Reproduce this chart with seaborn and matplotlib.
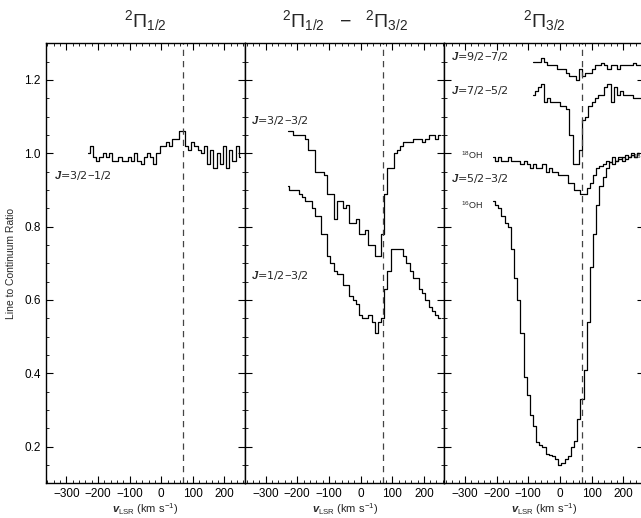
"""
OH line-to-continuum ratios for the three ladders (2Pi1/2, cross-ladder, 2Pi3/2).
"""
import matplotlib
matplotlib.use("Agg")
import matplotlib.pyplot as plt
from matplotlib.ticker import MultipleLocator
import seaborn as sns
import pandas as pd
import numpy as np

# ---- data ----
CHAN = 10.0          # channel width, km/s
V_SYS = 70.0         # dashed reference velocity

# panel 1: 2Pi1/2  J=3/2-1/2, channels start at -230 km/s
p1_start = -230
p1_j32_12 = [1.00, 1.02, 0.99, 0.98, 0.99, 1.00, 0.99, 1.00, 0.98, 0.98,
             0.99, 0.98, 0.98, 0.99, 0.98, 1.00, 0.98, 0.97, 0.99, 1.00,
             0.99, 0.97, 1.00, 1.02, 1.02, 1.03, 1.02, 1.04, 1.04, 1.06,
             1.06, 1.02, 1.01, 1.03, 1.02, 1.01, 1.00, 1.02, 0.97, 1.01,
             0.96, 1.00, 0.97, 1.02, 0.96, 1.01, 0.98, 1.02, 0.99]

# panel 2: cross-ladder, channels start at -230 km/s
p2_start = -230
p2_j32_32 = [1.06, 1.06, 1.05, 1.05, 1.05, 1.05, 1.04, 1.01, 1.01, 0.95,
             0.95, 0.95, 0.94, 0.89, 0.89, 0.82, 0.87, 0.87, 0.85, 0.86,
             0.81, 0.81, 0.82, 0.78, 0.78, 0.79, 0.75, 0.75, 0.72, 0.72,
             0.78, 0.89, 0.96, 0.96, 1.00, 1.01, 1.02, 1.03, 1.03, 1.03,
             1.04, 1.04, 1.04, 1.03, 1.04, 1.05, 1.05, 1.04, 1.05]
p2_j12_32 = [0.91, 0.90, 0.90, 0.90, 0.89, 0.88, 0.87, 0.87, 0.85, 0.83,
             0.83, 0.78, 0.78, 0.72, 0.70, 0.68, 0.67, 0.67, 0.64, 0.64,
             0.61, 0.60, 0.59, 0.56, 0.55, 0.55, 0.56, 0.54, 0.51, 0.54,
             0.55, 0.63, 0.68, 0.74, 0.74, 0.74, 0.74, 0.72, 0.70, 0.68,
             0.66, 0.66, 0.63, 0.62, 0.60, 0.58, 0.57, 0.56, 0.55]

# panel 3: 2Pi3/2
p3_hi_start = -85
p3_j92_72 = [1.25, 1.25, 1.25, 1.26, 1.25, 1.24, 1.24, 1.24, 1.23, 1.23,
             1.23, 1.22, 1.21, 1.21, 1.20, 1.23, 1.21, 1.22, 1.22, 1.23,
             1.24, 1.24, 1.245, 1.24, 1.23, 1.24, 1.24, 1.23, 1.24, 1.24,
             1.24, 1.24, 1.245, 1.24, 1.24]
p3_j72_52 = [1.16, 1.17, 1.18, 1.19, 1.14, 1.15, 1.14, 1.14, 1.14, 1.13,
             1.13, 1.12, 1.05, 0.97, 0.97, 1.01, 1.09, 1.10, 1.13, 1.14,
             1.15, 1.16, 1.16, 1.18, 1.19, 1.14, 1.18, 1.16, 1.17, 1.16,
             1.16, 1.16, 1.15, 1.15, 1.15]
p3_lo_start = -210
p3_18oh = [0.99, 0.98, 0.99, 0.98, 0.98, 0.99, 0.98, 0.98, 0.98, 0.97,
           0.98, 0.97, 0.96, 0.97, 0.96, 0.96, 0.97, 0.95, 0.96, 0.95,
           0.95, 0.94, 0.94, 0.94, 0.92, 0.92, 0.90, 0.90, 0.89, 0.89,
           0.905, 0.92, 0.94, 0.96, 0.965, 0.97, 0.98, 0.975, 0.99, 0.98,
           0.99, 0.98, 0.995, 0.99, 1.00, 0.99, 1.00]
p3_16oh = [0.87, 0.86, 0.85, 0.83, 0.81, 0.80, 0.74, 0.66, 0.60, 0.51,
           0.39, 0.34, 0.285, 0.255, 0.213, 0.204, 0.20, 0.18, 0.177, 0.175,
           0.165, 0.15, 0.155, 0.165, 0.175, 0.20, 0.215, 0.276, 0.33, 0.41,
           0.54, 0.69, 0.78, 0.86, 0.91, 0.935, 0.96, 0.975, 0.97, 0.98,
           0.985, 0.99, 0.985, 0.99, 0.995, 0.99, 1.00]

titles = [r'$^{2}\Pi_{1/2}$', r'$^{2}\Pi_{1/2}\ \ -\ \ ^{2}\Pi_{3/2}$', r'$^{2}\Pi_{3/2}$']


def spectrum(start, values):
    vel = start + CHAN * np.arange(len(values))
    return pd.DataFrame({'v': vel, 'ratio': values})


sns.set_style('ticks')
plt.rcParams['font.family'] = ['Liberation Sans', 'DejaVu Sans']
plt.rcParams['mathtext.fontset'] = 'custom'
plt.rcParams['mathtext.rm'] = 'Liberation Sans'
plt.rcParams['mathtext.it'] = 'Liberation Sans:italic:bold'
plt.rcParams['mathtext.bf'] = 'Liberation Sans:bold'

fig = plt.figure(figsize=(6.41, 5.18), dpi=100)
left, width = 0.0713, 0.311
bottom, height = 0.067, 0.8494
axes = [fig.add_axes([left + i * width, bottom, width, height]) for i in range(3)]

panels = [
    [(p1_start, p1_j32_12)],
    [(p2_start, p2_j32_32), (p2_start, p2_j12_32)],
    [(p3_hi_start, p3_j92_72), (p3_hi_start, p3_j72_52),
     (p3_lo_start, p3_18oh), (p3_lo_start, p3_16oh)],
]

for i, ax in enumerate(axes):
    for start, vals in panels[i]:
        sns.lineplot(data=spectrum(start, vals), x='v', y='ratio', ax=ax,
                     estimator=None, sort=True, color='black', lw=0.9,
                     drawstyle='steps-mid')
    ax.axvline(V_SYS, color='#444444', lw=0.9, ls=(0, (5, 4)))
    ax.set_xlim(-365, 265)
    ax.set_ylim(0.1, 1.3)
    ax.xaxis.set_major_locator(MultipleLocator(100))
    ax.xaxis.set_minor_locator(MultipleLocator(20))
    ax.yaxis.set_major_locator(MultipleLocator(0.2))
    ax.yaxis.set_minor_locator(MultipleLocator(0.05))
    ax.tick_params(which='both', direction='in', top=True, right=True,
                   labelsize=8.5, colors='black')
    ax.tick_params(which='major', length=5, width=0.8)
    ax.tick_params(which='minor', length=2.5, width=0.6)
    for sp in ax.spines.values():
        sp.set_linewidth(1.0)
        sp.set_color('black')
    ax.set_xlabel(r'$v_{\rm LSR}$ (km s$^{-1}$)', fontsize=8, labelpad=1)
    ax.set_title(titles[i], fontsize=14, pad=12)
    if i == 0:
        ax.set_ylabel('Line to Continuum Ratio', fontsize=7.5, labelpad=6)
    else:
        ax.set_ylabel('')
        ax.tick_params(labelleft=False)

# line labels, wider DejaVu glyphs to match the spacing of the original
lab = dict(fontsize=8, ha='left', va='center', family='DejaVu Sans')
iso = dict(fontsize=6.5, ha='left', va='center')
axes[0].text(-340, 0.94, r'$J$=3/2$-$1/2', **lab)
axes[1].text(-345, 1.09, r'$J$=3/2$-$3/2', **lab)
axes[1].text(-345, 0.668, r'$J$=1/2$-$3/2', **lab)
axes[2].text(-345, 1.263, r'$J$=9/2$-$7/2', **lab)
axes[2].text(-345, 1.17, r'$J$=7/2$-$5/2', **lab)
axes[2].text(-312, 0.996, r'$^{18}$OH', **iso)
axes[2].text(-345, 0.931, r'$J$=5/2$-$3/2', **lab)
axes[2].text(-312, 0.858, r'$^{16}$OH', **iso)
axes[2].text(232, 0.988, r'$^{18}$OH', clip_on=False, **iso)

fig.savefig('out.png', dpi=100, facecolor='white')
